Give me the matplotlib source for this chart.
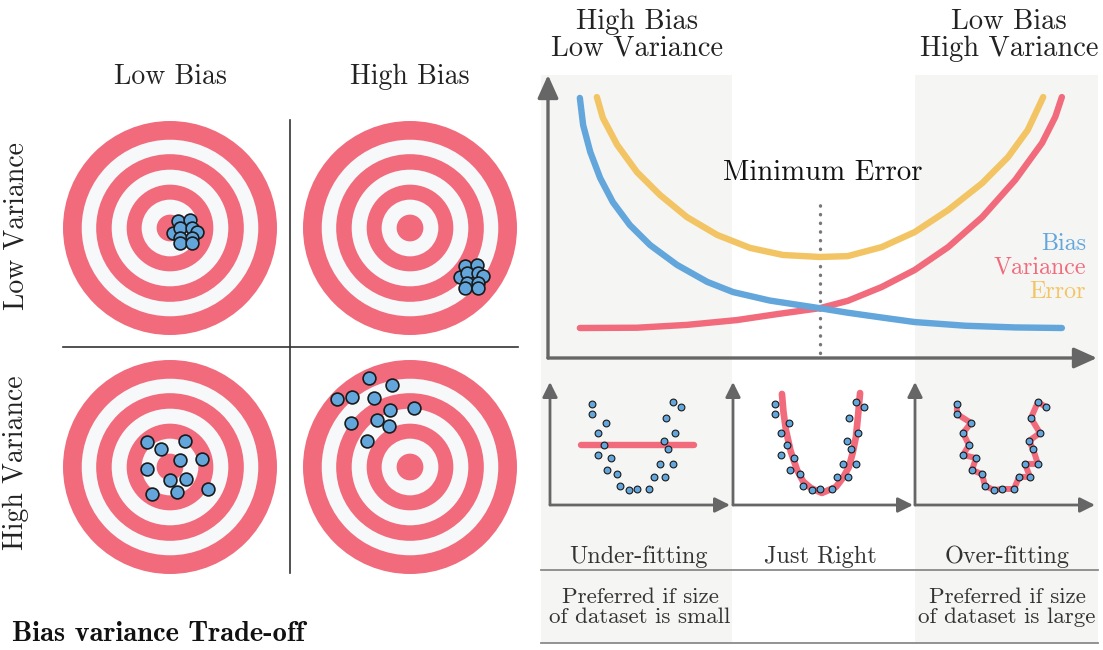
import numpy as np
import matplotlib.pyplot as plt
from matplotlib.patches import Circle, Rectangle

# ---- data ----
ring_radii = [1.0, 0.825, 0.69, 0.545, 0.405, 0.265, 0.125]

hits_lowbias_lowvar = [(0.075, 0.065), (0.187, 0.075), (0.028, -0.047), (0.093, 0.0),
                       (0.206, 0.0), (0.252, -0.037), (0.093, -0.093), (0.206, -0.093),
                       (0.093, -0.140), (0.206, -0.140)]
hits_highbias_lowvar = [(0.514, -0.355), (0.626, -0.346), (0.467, -0.458), (0.533, -0.421),
                        (0.636, -0.421), (0.682, -0.449), (0.533, -0.514), (0.636, -0.514),
                        (0.514, -0.561), (0.636, -0.561)]
hits_lowbias_highvar = [(-0.215, 0.234), (-0.084, 0.168), (0.140, 0.243), (0.093, 0.065),
                        (0.299, 0.075), (-0.215, -0.019), (0.0, -0.121), (0.150, -0.112),
                        (0.355, -0.206), (-0.168, -0.252), (0.065, -0.234)]
hits_highbias_highvar = [(-0.383, 0.832), (-0.168, 0.766), (-0.682, 0.636), (-0.542, 0.654),
                         (-0.336, 0.645), (0.037, 0.551), (-0.187, 0.533), (-0.551, 0.411),
                         (-0.308, 0.439), (-0.196, 0.383), (-0.402, 0.243)]

# trade-off curves (model complexity vs error)
bias_x = [0.58, 0.64, 0.77, 0.95, 1.18, 1.49, 1.86, 2.35, 2.90, 3.37, 4.04, 4.95,
          5.46, 6.08, 6.68, 7.60, 8.51, 9.36]
bias_y = [9.19, 8.23, 7.28, 6.36, 5.51, 4.70, 3.99, 3.29, 2.69, 2.33, 2.03, 1.76,
          1.60, 1.43, 1.27, 1.14, 1.08, 1.06]
var_x = [0.58, 1.62, 2.53, 3.44, 4.17, 4.95, 5.46, 6.08, 6.68, 7.29, 7.91, 8.51,
         9.00, 9.24, 9.36]
var_y = [1.06, 1.07, 1.17, 1.34, 1.55, 1.76, 2.02, 2.51, 3.11, 3.92, 4.98, 6.29,
         7.60, 8.52, 9.22]
err_x = [0.89, 1.00, 1.26, 1.62, 2.04, 2.53, 3.08, 3.68, 4.28, 4.95, 5.46, 6.08,
         6.68, 7.29, 7.91, 8.38, 8.74, 9.02]
err_y = [9.22, 8.48, 7.53, 6.57, 5.76, 4.98, 4.35, 3.89, 3.64, 3.57, 3.60, 3.92,
         4.45, 5.23, 6.18, 7.10, 8.06, 9.22]
min_error_x = 4.95

# sample data for the fitting panels
pts_x = [2.33, 2.33, 3.11, 2.67, 3.00, 2.67, 3.39, 3.17, 3.72, 3.89, 4.39, 4.83,
         5.50, 5.78, 6.39, 6.11, 6.83, 6.56, 6.33, 6.94, 6.44, 6.83, 7.28]
pts_y = [5.61, 5.06, 4.56, 4.00, 3.33, 2.78, 2.61, 1.94, 1.72, 1.06, 0.83, 0.89,
         0.89, 1.56, 1.56, 2.28, 2.28, 3.11, 3.56, 4.00, 4.83, 5.72, 5.44]
underfit_x = [1.72, 8.0]
underfit_y = [3.33, 3.33]
justright_x = [2.72, 2.80, 2.94, 3.20, 3.56, 3.90, 4.33, 4.94, 5.72, 6.10, 6.44, 6.65, 6.83, 6.95, 7.06]
justright_y = [6.17, 5.20, 4.17, 3.00, 1.94, 1.30, 0.94, 0.67, 1.00, 1.50, 2.11, 2.90, 3.78, 5.00, 6.22]

fit_labels = ["Under-fitting", "Just Right", "Over-fitting"]

RED = '#f16b7c'
BLUE = '#62a6dc'
YELLOW = '#f3c463'
RING_WHITE = '#f7f8fa'
GRAY = '#666666'
SHADE = '#f5f5f3'
TXT = '#222222'
CM = 'cmr10'

W, H = 1103, 650
fig = plt.figure(figsize=(W / 100, H / 100), dpi=100)


def rect(x0, y0, x1, y1):
    return [x0 / W, 1 - y1 / H, (x1 - x0) / W, (y1 - y0) / H]


bg = fig.add_axes([0, 0, 1, 1])
bg.set_xlim(0, W)
bg.set_ylim(H, 0)
bg.axis('off')

# shaded bands on the right
bg.add_patch(Rectangle((541, 75), 191, 568, color=SHADE, lw=0))
bg.add_patch(Rectangle((915, 75), 183, 568, color=SHADE, lw=0))
bg.plot([541, 1098], [570, 570], color='#8a8a8a', lw=1.3)
bg.plot([541, 1098], [643, 643], color='#8a8a8a', lw=1.3)

# quadrant dividers
bg.plot([290, 290], [120, 573], color='#333333', lw=1.2)
bg.plot([63, 518], [347, 347], color='#333333', lw=1.2)

bg.text(170, 84, "Low Bias", family=CM, fontsize=20, color=TXT, ha='center', va='baseline')
bg.text(410, 84, "High Bias", family=CM, fontsize=20, color=TXT, ha='center', va='baseline')
bg.text(16, 226, "Low Variance", family=CM, fontsize=20, color=TXT, ha='center', va='center', rotation=90)
bg.text(16, 463, "High Variance", family=CM, fontsize=20, color=TXT, ha='center', va='center', rotation=90)
bg.text(12, 641, "Bias variance Trade-off", family='cmb10', fontsize=20.5, color='#111111',
        ha='left', va='baseline')

bg.text(637, 56, "High Bias\nLow Variance", family=CM, fontsize=20.5, color=TXT,
        ha='center', va='baseline', linespacing=1.05)
bg.text(1009, 56, "Low Bias\nHigh Variance", family=CM, fontsize=20.5, color=TXT,
        ha='center', va='baseline', linespacing=1.05)

for lab, cx in zip(fit_labels, [639, 820, 1007]):
    bg.text(cx, 563, lab, family=CM, fontsize=17.5, color='#333333', ha='center', va='baseline')
bg.text(640, 623, "Preferred if size\nof dataset is small", family=CM, fontsize=16.6,
        color='#333333', ha='center', va='baseline', linespacing=1.0)
bg.text(1007, 623, "Preferred if size\nof dataset is large", family=CM, fontsize=16.6,
        color='#333333', ha='center', va='baseline', linespacing=1.0)

# ---- targets ----
targets = [(170, 228, hits_lowbias_lowvar), (410, 228, hits_highbias_lowvar),
           (170, 467, hits_lowbias_highvar), (410, 467, hits_highbias_highvar)]
for cx, cy, hits in targets:
    ax = fig.add_axes(rect(cx - 112, cy - 112, cx + 112, cy + 112))
    lim = 112 / 107
    ax.set_xlim(-lim, lim)
    ax.set_ylim(-lim, lim)
    ax.axis('off')
    for i, r in enumerate(ring_radii):
        ax.add_patch(Circle((0, 0), r, color=RED if i % 2 == 0 else RING_WHITE, lw=0))
    hx, hy = zip(*hits)
    ax.scatter(hx, hy, s=85, color=BLUE, edgecolor='#1a1a1a', linewidth=1.2, zorder=5)

# ---- main trade-off chart ----
mc = fig.add_axes(rect(548, 75, 1097, 358))
mc.set_xlim(0, 10)
mc.set_ylim(0, 10)
mc.axis('off')
arrow = dict(arrowstyle='-|>,head_length=1.0,head_width=0.45', mutation_scale=14,
             color=GRAY, lw=2.4, shrinkA=0, shrinkB=0)
mc.annotate('', xy=(0, 1), xytext=(0, 0), xycoords='axes fraction', arrowprops=arrow)
mc.annotate('', xy=(1, 0), xytext=(0, 0), xycoords='axes fraction', arrowprops=arrow)

mc.plot([min_error_x, min_error_x], [0.18, 5.55], color='#777777', lw=2.4,
        linestyle=(0, (0.1, 2.5)), dash_capstyle='round')
mc.plot(err_x, err_y, color=YELLOW, lw=4.6, solid_capstyle='round', solid_joinstyle='round')
mc.plot(var_x, var_y, color=RED, lw=4.6, solid_capstyle='round', solid_joinstyle='round')
mc.plot(bias_x, bias_y, color=BLUE, lw=4.6, solid_capstyle='round', solid_joinstyle='round')

mc.text(5.0, 6.29, "Minimum Error", family=CM, fontsize=20.8, color='#111111',
        ha='center', va='baseline')
for lab, col, yy in [("Bias", BLUE, 3.82), ("Variance", RED, 2.97), ("Error", YELLOW, 2.12)]:
    mc.text(9.8, yy, lab, family=CM, fontsize=17.3, color=col, ha='right', va='baseline')

# ---- fitting panels ----
small_arrow = dict(arrowstyle='-|>,head_length=1.0,head_width=0.5', mutation_scale=9,
                   color=GRAY, lw=2.0, shrinkA=0, shrinkB=0)
for k, x0 in enumerate([550, 733, 915]):
    ax = fig.add_axes(rect(x0, 382, x0 + 180, 505))
    ax.set_xlim(0, 10)
    ax.set_ylim(0, 123 / 18)
    ax.axis('off')
    ax.annotate('', xy=(0, 1), xytext=(0, 0), xycoords='axes fraction', arrowprops=small_arrow)
    ax.annotate('', xy=(1, 0), xytext=(0, 0), xycoords='axes fraction', arrowprops=small_arrow)
    if k == 0:
        ax.plot(underfit_x, underfit_y, color=RED, lw=4.6, solid_capstyle='round', zorder=3)
    elif k == 1:
        ax.plot(justright_x, justright_y, color=RED, lw=4.8, solid_capstyle='round',
                solid_joinstyle='round', zorder=3)
    else:
        ax.plot(pts_x, pts_y, color=RED, lw=4.3, solid_capstyle='round',
                solid_joinstyle='round', zorder=3)
    ax.scatter(pts_x, pts_y, s=24, color=BLUE, edgecolor='#1a1a1a', linewidth=0.8, zorder=4)

fig.savefig('out.png', dpi=100)
